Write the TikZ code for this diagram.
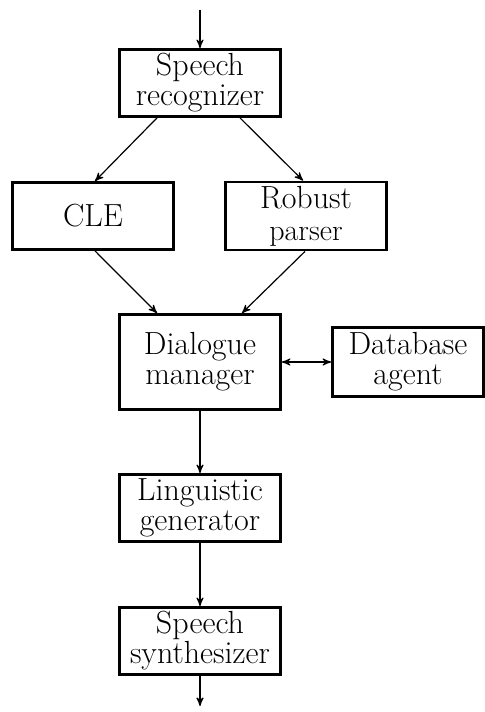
\documentclass[tikz,border=0pt]{standalone}
\usepackage{tikz}
\usetikzlibrary{arrows,positioning}

\tikzset{
  module/.style={draw,line width=1.4pt,minimum width=80.5pt,minimum height=33.5pt,
    align=center,inner sep=2pt,font=\fontsize{16}{15}\selectfont},
  flow/.style={->,line width=0.6pt}
}

\begin{document}
\begin{tikzpicture}[>=stealth',x=1pt,y=1pt]
      \useasboundingbox (0,0) rectangle (242.5,356);

      \node[module] (rec) at (100,314.5) {Speech\\recognizer};
      \node[module] (cle) at (46.5,248) {CLE};
      \node[module] (rob) at (153,248) {Robust\\[1pt]{\fontsize{15}{15}\selectfont parser}};
      \node[module,minimum height=47.5pt] (dlg) at (100,175) {Dialogue\\manager};
      \node[module,minimum width=75.5pt,minimum height=34.5pt] (db) at (204,175) {Database\\agent};
      \node[module] (gen) at (100,102) {Linguistic\\generator};
      \node[module] (syn) at (100,35.5) {Speech\\synthesizer};

      \coordinate (in) at (100,351);
      \coordinate (out) at (100,3);

      \draw[flow] (in) -- (rec);
      \draw[flow] ([xshift=-21.5pt]rec.south) -- ([xshift=1pt]cle.north);
      \draw[flow] ([xshift=20pt]rec.south) -- ([xshift=-1.5pt]rob.north);
      \draw[flow] ([xshift=1pt]cle.south) -- ([xshift=-21.5pt]dlg.north);
      \draw[flow] ([xshift=-0.5pt]rob.south) -- ([xshift=21pt]dlg.north);
      \draw[flow,<->] (dlg) -- (db);
      \draw[flow] (dlg) -- (gen);
      \draw[flow] (gen) -- (syn);
      \draw[flow] (syn) -- (out);
    \end{tikzpicture}
\end{document}
